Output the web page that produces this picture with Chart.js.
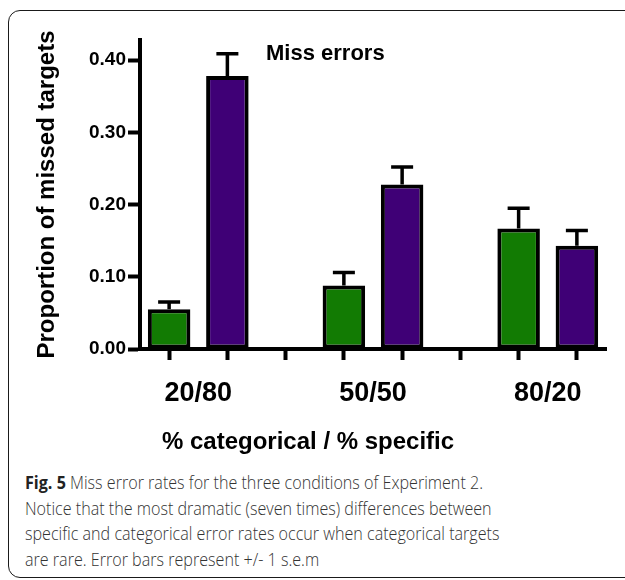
<!DOCTYPE html>
<html>
<head>
<meta charset="utf-8">
<script src="https://cdn.jsdelivr.net/npm/chart.js@4"></script>
<style>
  body { margin: 0; background: #fff; }
  #wrap { position: relative; width: 625px; height: 580px; overflow: hidden; font-family: "Liberation Sans", Arial, sans-serif; }
  #frame { position: absolute; left: 8px; top: 10px; width: 660px; height: 566px; border: 1.5px solid #1a1a1a; border-radius: 12px; }
  #chartBox { position: absolute; left: 0; top: 0; width: 625px; height: 460px; }
  #title { position: absolute; left: 266px; top: 41px; font-size: 22px; font-weight: bold; line-height: 24px; color: #000; }
  #xtitle { position: absolute; left: 162px; top: 428px; font-size: 24px; font-weight: bold; line-height: 26px; color: #000; white-space: nowrap; }
  #caption { position: absolute; left: 25px; top: 470px; font-family: "Open Sans", sans-serif; font-weight: 300; font-size: 18px; line-height: 25.5px; color: #333; white-space: nowrap; transform: scaleX(0.895); transform-origin: 0 0; }
  #caption b { font-weight: bold; color: #222; }
</style>
</head>
<body>
<div id="wrap">
  <div id="frame"></div>
  <div id="chartBox"><canvas id="chart"></canvas></div>
  <div id="title">Miss errors</div>
  <div id="xtitle">% categorical / % specific</div>
  <div id="caption">
    <b>Fig. 5</b> Miss error rates for the three conditions of Experiment 2.<br>
    Notice that the most dramatic (seven times) differences between<br>
    specific and categorical error rates occur when categorical targets<br>
    are rare. Error bars represent +/- 1 s.e.m
  </div>
</div>
<script>
// 數據
var groups = ["20/80", "50/50", "80/20"];
var greenVals = [0.055, 0.088, 0.167];
var greenErr = [0.010, 0.018, 0.028];
var purpleVals = [0.378, 0.228, 0.143];
var purpleErr = [0.031, 0.024, 0.021];
var yTicks = [0, 0.1, 0.2, 0.3, 0.4];

var font = "'Liberation Sans', Arial, sans-serif";

// 每組兩根柱子加一個空位
var slots = [], greenData = [], purpleData = [], greenE = [], purpleE = [], groupPos = [];
groups.forEach(function (g, i) {
  var n = i < groups.length - 1 ? 3 : 2;
  groupPos.push(slots.length + 0.5);
  for (var k = 0; k < n; k++) {
    slots.push(g + "-" + k);
    greenData.push(k === 0 ? greenVals[i] : null);
    greenE.push(k === 0 ? greenErr[i] : null);
    purpleData.push(k === 1 ? purpleVals[i] : null);
    purpleE.push(k === 1 ? purpleErr[i] : null);
  }
});

var errorBars = {
  id: "errorBars",
  afterDatasetsDraw: function (chart) {
    var ctx = chart.ctx, y = chart.scales.y;
    chart.data.datasets.forEach(function (ds, di) {
      var meta = chart.getDatasetMeta(di);
      ds.data.forEach(function (v, i) {
        if (v == null) return;
        var x = meta.data[i].x;
        var y0 = y.getPixelForValue(v);
        var y1 = y.getPixelForValue(v + ds.errors[i]);
        ctx.save();
        ctx.strokeStyle = "#000";
        ctx.lineWidth = 3.5;
        ctx.beginPath();
        ctx.moveTo(x, y0);
        ctx.lineTo(x, y1);
        ctx.moveTo(x - 11, y1);
        ctx.lineTo(x + 11, y1);
        ctx.stroke();
        ctx.restore();
      });
    });
  }
};

new Chart(document.getElementById("chart").getContext("2d"), {
  type: "bar",
  data: {
    labels: slots,
    datasets: [
      {
        data: greenData,
        errors: greenE,
        backgroundColor: "#127b03",
        borderColor: "#000",
        borderWidth: 4,
        borderSkipped: false,
        grouped: false,
        barPercentage: 0.73,
        categoryPercentage: 1,
      },
      {
        data: purpleData,
        errors: purpleE,
        backgroundColor: "#3f0076",
        borderColor: "#000",
        borderWidth: 4,
        borderSkipped: false,
        grouped: false,
        barPercentage: 0.73,
        categoryPercentage: 1,
      },
    ],
  },
  options: {
    responsive: true,
    maintainAspectRatio: false,
    animation: false,
    layout: { padding: { top: 40, left: 33, right: 19, bottom: 0 } },
    plugins: { legend: { display: false }, tooltip: { enabled: false } },
    scales: {
      x: {
        type: "category",
        weight: 0,
        afterFit: function (s) { s.height = 14; },
        ticks: { display: false },
        grid: { drawOnChartArea: false, offset: false, tickLength: 11, tickWidth: 4, tickColor: "#000" },
        border: { color: "#000", width: 4 },
      },
      // 組名標籤軸
      x2: {
        type: "linear",
        position: "bottom",
        weight: 1,
        offset: false,
        bounds: "data",
        min: -0.5,
        max: slots.length - 0.5,
        afterFit: function (s) { s.height = 97; },
        afterBuildTicks: function (s) {
          s.ticks = groupPos.map(function (v) { return { value: v }; });
        },
        ticks: {
          autoSkip: false,
          maxRotation: 0,
          padding: 14,
          color: "#000",
          font: { family: font, size: 27, weight: "bold" },
          callback: function (v, i) { return groups[i]; },
        },
        grid: { display: false, drawTicks: false, offset: false },
        border: { display: false },
      },
      y: {
        min: 0,
        max: 0.428,
        afterFit: function (s) { s.width = 107; },
        afterBuildTicks: function (s) {
          s.ticks = yTicks.map(function (v) { return { value: v }; });
        },
        ticks: {
          padding: 2,
          color: "#000",
          font: { family: font, size: 19, weight: "bold" },
          callback: function (v) { return v.toFixed(2); },
        },
        grid: { drawOnChartArea: false, tickLength: 12, tickWidth: 4, tickColor: "#000" },
        border: { color: "#000", width: 4 },
        title: {
          display: true,
          text: "Proportion of missed targets",
          color: "#000",
          padding: 0,
          font: { family: font, size: 24, weight: "bold" },
        },
      },
    },
  },
  plugins: [errorBars],
});
</script>
</body>
</html>
